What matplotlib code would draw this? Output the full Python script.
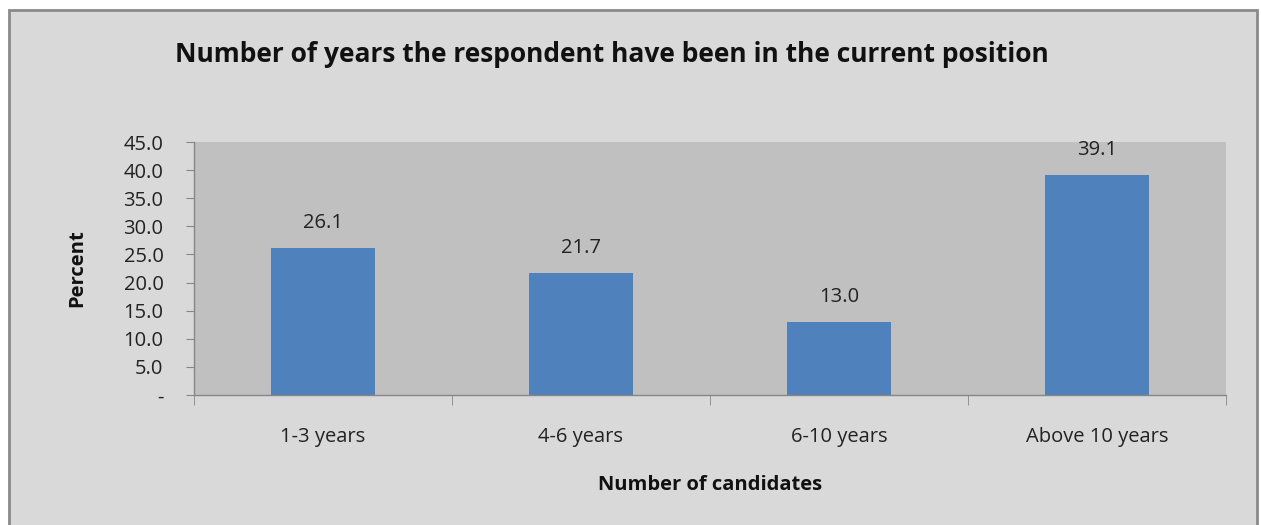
import matplotlib.pyplot as plt
from matplotlib.patches import Rectangle
from matplotlib.ticker import FuncFormatter, FixedLocator

# === DATA ===
categories = ["1-3 years", "4-6 years", "6-10 years", "Above 10 years"]
percent = [26.1, 21.7, 13.0, 39.1]
y_ticks = [0, 5, 10, 15, 20, 25, 30, 35, 40, 45]

title = "Number of years the respondent have been in the current position"
x_label = "Number of candidates"
y_label = "Percent"

# === STYLE ===
plt.rcParams['font.family'] = ['Open Sans', 'DejaVu Sans']
BAR_COLOR = "#4f81bd"
PLOT_BG = "#c0c0c0"
CHART_BG = "#d9d9d9"
AXIS_COLOR = "#868686"
TEXT_COLOR = "#222222"

W, H = 1261, 525
fig = plt.figure(figsize=(W / 100, H / 100), dpi=100)
fig.patch.set_facecolor("white")

# chart frame (grey panel with darker border), kept behind the axes
frame = Rectangle((9 / W, -0.05), (1257 - 9) / W, (H - 10) / H + 0.05,
                  transform=fig.transFigure, facecolor=CHART_BG,
                  edgecolor="#8a8a8a", linewidth=2, zorder=-10)
fig.patches.append(frame)

# plot area in pixel coords: left 194, right 1226, top 142, bottom 395
left, right, top, bottom = 194, 1226, 142, 395
ax = fig.add_axes([left / W, 1 - bottom / H, (right - left) / W, (bottom - top) / H])
ax.set_facecolor(PLOT_BG)

x = list(range(len(categories)))
bars = ax.bar(x, percent, width=0.4, color=BAR_COLOR, zorder=2)
for xi, v in zip(x, percent):
    ax.annotate(f"{v:.1f}", (xi, v), xytext=(0, 11), textcoords="offset points",
                ha="center", va="bottom", fontsize=14.5, color=TEXT_COLOR)

ax.set_xlim(-0.5, len(categories) - 0.5)
ax.set_ylim(0, 45)

ax.yaxis.set_major_locator(FixedLocator(y_ticks))
ax.yaxis.set_major_formatter(FuncFormatter(lambda v, p: "-" if v == 0 else f"{v:.1f}"))
ax.tick_params(axis="y", length=6, color=AXIS_COLOR, labelsize=14.5,
               labelcolor=TEXT_COLOR, pad=16)

# category labels centred, tick marks at the category boundaries
ax.set_xticks(x)
ax.set_xticklabels(categories)
ax.tick_params(axis="x", length=0, labelsize=14.5, labelcolor=TEXT_COLOR, pad=23)
ax.set_xticks([i - 0.5 for i in range(len(categories) + 1)], minor=True)
ax.tick_params(axis="x", which="minor", length=7, color=AXIS_COLOR)

for side in ["top", "right"]:
    ax.spines[side].set_visible(False)
for side in ["left", "bottom"]:
    ax.spines[side].set_color(AXIS_COLOR)
    ax.spines[side].set_linewidth(1)

ax.set_xlabel(x_label, fontsize=14.5, fontweight="bold", labelpad=20, color="#111111")
ax.set_ylabel(y_label, fontsize=14.5, fontweight="bold", labelpad=26, color="#111111")

fig.text(611.5 / W, 1 - 55 / H, title, ha="center", va="center",
         fontsize=19, fontweight="bold", color="#111111")

fig.savefig("out.png", dpi=100)
